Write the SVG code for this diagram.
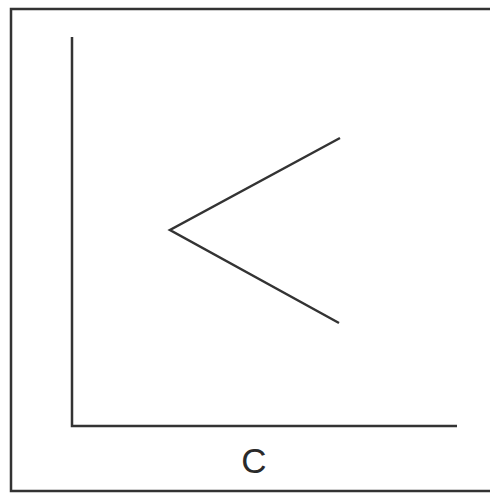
<svg xmlns="http://www.w3.org/2000/svg" width="490" height="495" viewBox="0 0 490 495">
<style>
.ln{fill:none;stroke:#333;stroke-width:2.5;stroke-linecap:butt;stroke-linejoin:miter}
.lbl{font-family:"Liberation Sans",Arial,sans-serif;font-size:35px;fill:#2a2a2a}
</style>
<rect x="0" y="0" width="490" height="495" fill="#fff"/>
<g id="frame"><rect class="ln" x="11" y="9" width="486" height="482" stroke-width="3"/></g>
<g id="axes">
<polyline class="ln" points="72,37 72,426 457,426"/>
</g>
<g id="connectors">
<polyline class="ln" points="340,138 170,230 339,323"/>
</g>
<g id="label"><text class="lbl" x="254" y="473" text-anchor="middle">C</text></g>
</svg>
